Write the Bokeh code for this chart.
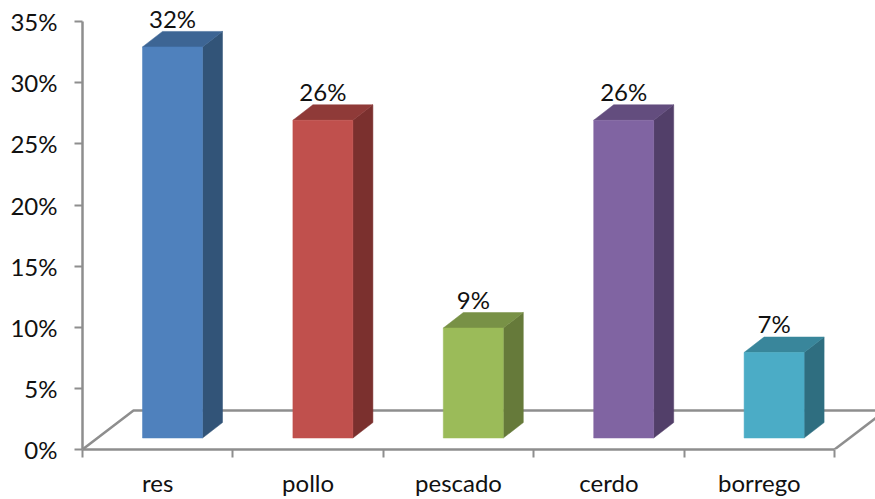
from bokeh.plotting import figure
from bokeh.models import Range1d, FixedTicker, LinearAxis
from bokeh.embed import file_html
from bokeh.resources import INLINE
from bokeh.core.properties import value

categories = ["res", "pollo", "pescado", "cerdo", "borrego"]
values = [32, 26, 9, 26, 7]
labels = ["32%", "26%", "9%", "26%", "7%"]
y_ticks = [0, 5, 10, 15, 20, 25, 30, 35]
y_tick_labels = ["0%", "5%", "10%", "15%", "20%", "25%", "30%", "35%"]
front_colors = ["#4F81BD", "#C0504D", "#9BBB59", "#8064A2", "#4BACC6"]
side_colors = ["#325478", "#7B302E", "#667A3A", "#523F69", "#2F6E80"]
top_colors = ["#3D6594", "#8F3A38", "#789146", "#634D7E", "#39869B"]

PX_X = 150.4   # pixels per category
PX_Y = 12.25   # pixels per percent
W, H = 875, 499
AXIS_L, AXIS_B = 82, 49      # frame offsets inside the figure
x_end = (W - AXIS_L) / PX_X
y_end = (H - AXIS_B) / PX_Y

p = figure(width=W, height=H, output_backend="svg", toolbar_location=None,
           x_range=Range1d(0, x_end), y_range=Range1d(0, y_end),
           x_axis_type=None, y_axis_type=None,
           min_border_left=AXIS_L, min_border_bottom=AXIS_B,
           min_border_top=0, min_border_right=0,
           outline_line_color=None, background_fill_color="white",
           border_fill_color="white")
p.grid.visible = False

GRAY = "#8E8E8E"
FONT = "Lato"
SIZE = "24px"

# floor
fdx, fdy = 51 / PX_X, 39 / PX_Y
n = len(categories)
p.line([0, fdx, n + fdx], [0, fdy, fdy], line_color=GRAY, line_width=2.5)
p.line([n, n + fdx], [0, fdy], line_color=GRAY, line_width=2.5)

# bars
off, bw = 60 / PX_X, 60 / PX_X
dx, dy = 20 / PX_X, 15.5 / PX_Y
base = 11.5 / PX_Y
fx, fy, sx, sy, tx, ty, lx, ly = [], [], [], [], [], [], [], []
for i, v in enumerate(values):
    x0, x1 = i + off, i + off + bw
    y0, y1 = base, base + v
    fx.append([x0, x1, x1, x0]); fy.append([y0, y0, y1, y1])
    sx.append([x1, x1 + dx, x1 + dx, x1]); sy.append([y0, y0 + dy, y1 + dy, y1])
    tx.append([x0, x1, x1 + dx, x0 + dx]); ty.append([y1, y1, y1 + dy, y1 + dy])
    lx.append((x0 + x1) / 2)
    ly.append(y1)
p.patches(sx, sy, fill_color=side_colors, line_color=side_colors, line_width=0.5)
p.patches(tx, ty, fill_color=top_colors, line_color=top_colors, line_width=0.5)
p.patches(fx, fy, fill_color=front_colors, line_color=front_colors, line_width=0.5)

p.text(lx, ly, text=labels, text_font=value(FONT), text_font_size=SIZE,
       text_align="center", text_baseline="middle", text_color="#111111",
       y_offset=-28.5)

# axes
ya = LinearAxis(bounds=(0, 35), ticker=FixedTicker(ticks=y_ticks))
ya.major_label_overrides = dict(zip(y_ticks, y_tick_labels))
ya.major_label_text_font = FONT
ya.major_label_text_font_size = SIZE
ya.major_label_text_color = "#111111"
ya.major_label_standoff = 17
ya.major_tick_out = 8
ya.major_tick_in = 0
ya.minor_tick_line_color = None
ya.axis_line_color = GRAY
ya.axis_line_width = 2.5
ya.major_tick_line_color = GRAY
ya.major_tick_line_width = 2
p.add_layout(ya, "left")

cat_ticks = [i + 0.5 for i in range(n)]
xa = LinearAxis(bounds=(0, n),
                ticker=FixedTicker(ticks=cat_ticks, minor_ticks=list(range(n + 1))))
xa.major_label_overrides = dict(zip(cat_ticks, categories))
xa.major_label_text_font = FONT
xa.major_label_text_font_size = SIZE
xa.major_label_text_color = "#111111"
xa.major_label_standoff = 10
xa.major_tick_out = 0
xa.major_tick_in = 0
xa.major_tick_line_color = None
xa.minor_tick_out = 8
xa.minor_tick_in = 0
xa.minor_tick_line_color = GRAY
xa.minor_tick_line_width = 2
xa.axis_line_color = GRAY
xa.axis_line_width = 2.5
p.add_layout(xa, "below")

open("out.html", "w").write(file_html(p, INLINE))
